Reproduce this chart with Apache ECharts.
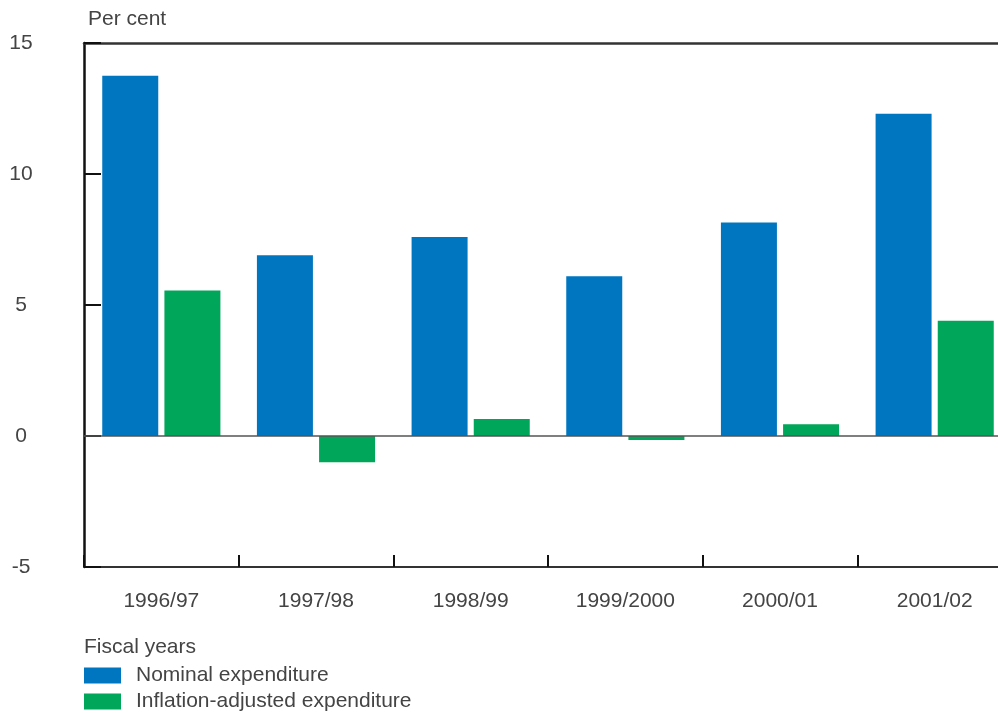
<!DOCTYPE html>
<html>
<head>
<meta charset="utf-8">
<script src="https://cdn.jsdelivr.net/npm/echarts@6/dist/echarts.min.js"></script>
<style>
html,body{margin:0;padding:0;background:#fff;}
#chart{width:998px;height:713px;}
</style>
</head>
<body>
<div id="chart"></div>
<script>
const categories = ['1996/97', '1997/98', '1998/99', '1999/2000', '2000/01', '2001/02'];
const nominal = [13.75, 6.9, 7.6, 6.1, 8.15, 12.3];
const inflationAdjusted = [5.55, -1.0, 0.65, -0.15, 0.45, 4.4];
const seriesNames = ['Nominal expenditure', 'Inflation-adjusted expenditure'];
const yTicks = { min: -5, max: 15, interval: 5 };

const FONT = 'Liberation Sans';
const TXT = '#444';
const FS = 21;

const legendCommon = {
  orient: 'vertical', left: 84, itemWidth: 37, itemHeight: 16, padding: 0,
  icon: 'rect',
  textStyle: { fontFamily: FONT, fontSize: FS, color: TXT, padding: [0, 0, 0, 10] }
};

const chart = echarts.init(document.getElementById('chart'), null, { renderer: 'canvas' });
chart.setOption({
  animation: false,
  backgroundColor: '#fff',
  grid: { left: 84, right: -14, top: 43, bottom: 146, containLabel: false, outerBoundsMode: 'none' },
  graphic: [
    { type: 'text', left: 88, top: 9, style: { text: 'Per cent', font: FS + 'px ' + FONT, fill: TXT } },
    { type: 'text', left: 84, top: 637, style: { text: 'Fiscal years', font: FS + 'px ' + FONT, fill: TXT } }
  ],
  legend: [
    Object.assign({}, legendCommon, { top: 665, data: [seriesNames[0]] }),
    Object.assign({}, legendCommon, { top: 691, data: [seriesNames[1]] })
  ],
  xAxis: [{
    type: 'category', data: categories, position: 'bottom',
    axisLine: { onZero: false, lineStyle: { color: '#333', width: 2 } },
    axisTick: { show: true, inside: true, length: 12, lineStyle: { color: '#111', width: 2 } },
    axisLabel: { fontFamily: FONT, fontSize: FS, color: TXT, margin: 24 }
  }, {
    type: 'category', data: categories, position: 'top',
    axisLine: { show: true, onZero: false, lineStyle: { color: '#333', width: 2.5 } },
    axisTick: { show: false }, axisLabel: { show: false }
  }],
  yAxis: {
    type: 'value', min: yTicks.min, max: yTicks.max, interval: yTicks.interval,
    axisLine: { show: true, lineStyle: { color: '#111', width: 2.5 } },
    axisTick: { show: true, inside: true, length: 17, lineStyle: { color: '#111', width: 2 } },
    splitLine: { show: false },
    axisLabel: { fontFamily: FONT, fontSize: FS, color: TXT, align: 'center', margin: 63 }
  },
  series: [{
    name: seriesNames[0], type: 'bar', data: nominal, barWidth: 56, barGap: '11%',
    itemStyle: { color: '#0076C0' },
    markLine: {
      silent: true, symbol: 'none', label: { show: false },
      lineStyle: { color: '#555', width: 1.5, type: 'solid' },
      data: [{ yAxis: 0 }], z: 10
    }
  }, {
    name: seriesNames[1], type: 'bar', data: inflationAdjusted, barWidth: 56,
    itemStyle: { color: '#00A65A' }
  }]
});
</script>
</body>
</html>
